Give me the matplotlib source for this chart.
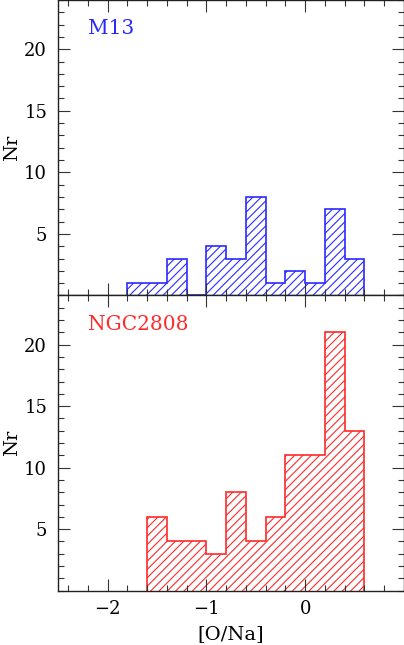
import numpy as np
import matplotlib.pyplot as plt
from matplotlib.ticker import MultipleLocator, FixedLocator

# -------------------------
# Data ([O/Na] histograms, bin width 0.2)
# -------------------------

edges_m13 = [-1.8, -1.6, -1.4, -1.2, -1.0, -0.8, -0.6, -0.4, -0.2, 0.0, 0.2, 0.4, 0.6]
counts_m13 = [1, 1, 3, 0, 4, 3, 8, 1, 2, 1, 7, 3]

edges_ngc = [-1.6, -1.4, -1.2, -1.0, -0.8, -0.6, -0.4, -0.2, 0.0, 0.2, 0.4, 0.6]
counts_ngc = [6, 4, 4, 3, 8, 4, 6, 11, 11, 21, 13]

xticks = [-2, -1, 0]
yticks = [5, 10, 15, 20]

# -------------------------
# Plot
# -------------------------

plt.rcParams['font.family'] = ['DejaVu Serif']
plt.rcParams['hatch.linewidth'] = 0.8

fig = plt.figure(figsize=(4.04, 6.45), dpi=100)

ax1 = fig.add_axes([0.1443, 0.5419, 0.8557, 0.4581])
ax2 = fig.add_axes([0.1443, 0.0842, 0.8557, 0.4577], sharex=ax1)

panels = [
    (ax1, edges_m13, counts_m13, '#2a2aff', 'M13'),
    (ax2, edges_ngc, counts_ngc, '#ff2a2a', 'NGC2808'),
]

for ax, edges, counts, col, name in panels:
    ax.stairs(
        counts,
        edges,
        fill=True,
        facecolor='none',
        edgecolor=col,
        hatch='////',
        linewidth=1.2,
        baseline=0,
    )

    ax.set_xlim(-2.5, 1.0)
    ax.set_ylim(0, 24)

    ax.xaxis.set_major_locator(FixedLocator(xticks))
    ax.xaxis.set_minor_locator(MultipleLocator(0.2))
    ax.yaxis.set_major_locator(FixedLocator(yticks))
    ax.yaxis.set_minor_locator(MultipleLocator(1))

    ax.tick_params(which='both', direction='in', top=True, right=True,
                   color='#333333', width=0.8, labelsize=13)
    ax.tick_params(which='major', length=8.5)
    ax.tick_params(which='minor', length=4.3)
    ax.tick_params(axis='y', which='major', pad=8)
    ax.tick_params(axis='x', which='major', pad=7)

    for sp in ax.spines.values():
        sp.set_linewidth(1.0)
        sp.set_color('#222222')

    ax.set_ylabel('Nr', fontsize=14)
    ax.yaxis.set_label_coords(-0.108, 0.5)

    ax.text(0.086, 0.935, name, transform=ax.transAxes,
            color=col, fontsize=14.5, va='top', ha='left')

ax1.tick_params(labelbottom=False)
ax2.set_xlabel('[O/Na]', fontsize=14, labelpad=5)

plt.savefig('out.png', dpi=100)
